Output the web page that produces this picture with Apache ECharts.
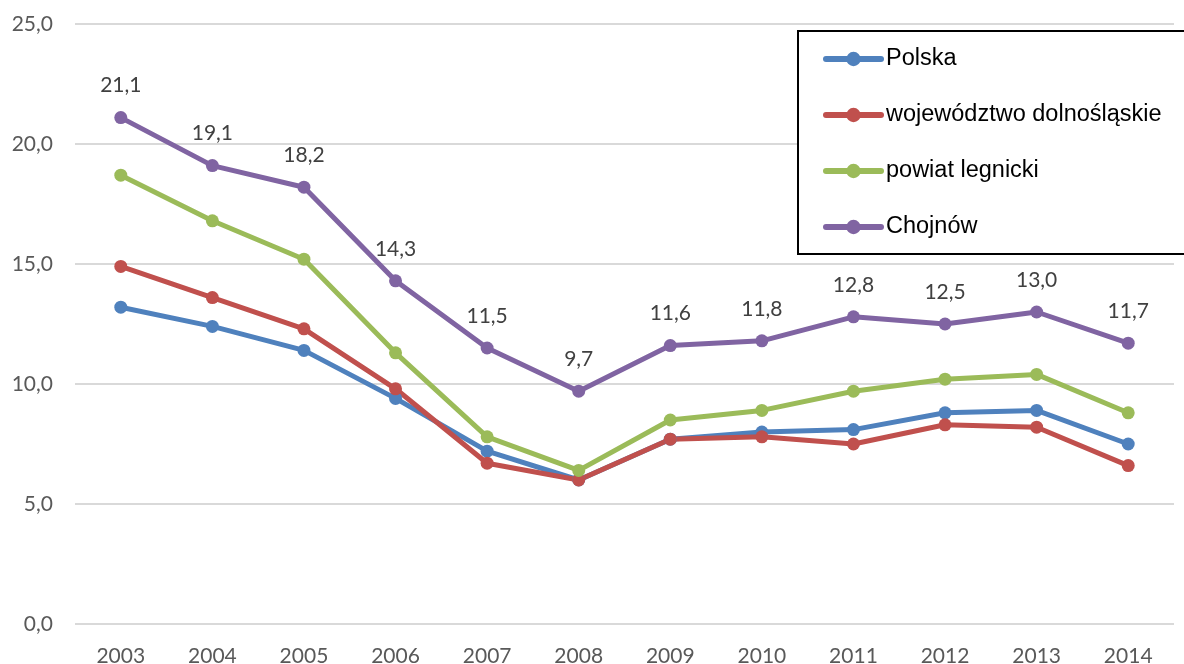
<!DOCTYPE html>
<html>
<head>
<meta charset="utf-8">
<script src="https://cdn.jsdelivr.net/npm/echarts@6/dist/echarts.min.js"></script>
<style>
  html, body { margin: 0; padding: 0; background: #fff; }
  #chart { width: 1184px; height: 664px; }
</style>
</head>
<body>
<div id="chart"></div>
<script>
// Years on the category axis
const years = ['2003','2004','2005','2006','2007','2008','2009','2010','2011','2012','2013','2014'];

// Series values (%)
const polska = [13.2, 12.4, 11.4, 9.4, 7.2, 6.0, 7.7, 8.0, 8.1, 8.8, 8.9, 7.5];
const dolnoslaskie = [14.9, 13.6, 12.3, 9.8, 6.7, 6.0, 7.7, 7.8, 7.5, 8.3, 8.2, 6.6];
const legnicki = [18.7, 16.8, 15.2, 11.3, 7.8, 6.4, 8.5, 8.9, 9.7, 10.2, 10.4, 8.8];
const chojnow = [21.1, 19.1, 18.2, 14.3, 11.5, 9.7, 11.6, 11.8, 12.8, 12.5, 13.0, 11.7];

const seriesNames = ['Polska', 'województwo dolnośląskie', 'powiat legnicki', 'Chojnów'];
const seriesColors = ['#4F81BD', '#C0504D', '#9BBB59', '#8064A2'];

const fmt = v => v.toFixed(1).replace('.', ',');

function lineSeries(name, data, color, withLabels) {
  return {
    name: name,
    type: 'line',
    data: data,
    symbol: 'circle',
    symbolSize: 13,
    color: color,
    lineStyle: { width: 5, color: color },
    itemStyle: { color: color },
    label: {
      show: withLabels,
      position: 'top',
      distance: 15,
      formatter: p => fmt(p.value),
      fontFamily: 'Lato',
      fontSize: 21,
      color: '#404040'
    },
    emphasis: { disabled: true },
    z: 3
  };
}

const chart = echarts.init(document.getElementById('chart'), null, { renderer: 'canvas' });

chart.setOption({
  animation: false,
  backgroundColor: '#ffffff',
  grid: { left: 75, right: 10, top: 24, bottom: 40, containLabel: false, outerBoundsMode: 'none' },
  xAxis: {
    type: 'category',
    data: years,
    boundaryGap: true,
    axisLine: { show: false },
    axisTick: { show: false },
    axisLabel: { fontFamily: 'Lato', fontSize: 21, color: '#595959', margin: 22 }
  },
  yAxis: {
    type: 'value',
    min: 0,
    max: 25,
    interval: 5,
    axisLine: { show: false },
    axisTick: { show: false },
    axisLabel: { fontFamily: 'Lato', fontSize: 21, color: '#595959', margin: 22, formatter: v => fmt(v) },
    splitLine: { lineStyle: { color: '#d9d9d9', width: 2 } }
  },
  legend: {
    orient: 'vertical',
    left: 823,
    top: 46,
    itemWidth: 55,
    itemHeight: 18,
    itemGap: 30,
    padding: 0,
    data: seriesNames,
    lineStyle: { width: 6, cap: 'round' },
    textStyle: { fontFamily: 'Liberation Sans', fontSize: 23.5, color: '#000', lineHeight: 26 },
    z: 10
  },
  graphic: [{
    type: 'rect',
    shape: { x: 798, y: 31, width: 400, height: 223 },
    style: { fill: '#ffffff', stroke: '#000000', lineWidth: 2 },
    z: 5
  }],
  series: [
    lineSeries(seriesNames[0], polska, seriesColors[0], false),
    lineSeries(seriesNames[1], dolnoslaskie, seriesColors[1], false),
    lineSeries(seriesNames[2], legnicki, seriesColors[2], false),
    lineSeries(seriesNames[3], chojnow, seriesColors[3], true)
  ]
});
</script>
</body>
</html>
